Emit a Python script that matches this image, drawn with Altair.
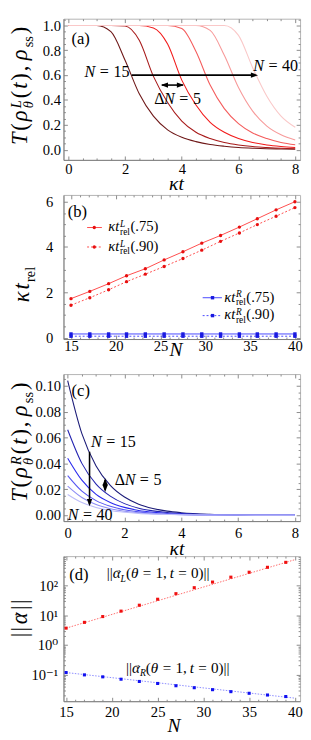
import altair as alt
import pandas as pd

FONT = "Liberation Serif, Times New Roman, DejaVu Serif, serif"

# ======================= data =======================
# (a) T(rho^L_theta(t), rho_ss) versus kappa t
A_T = [0, 0.5, 1, 1.5, 2, 2.5, 3, 3.5, 4, 4.5, 5, 5.5, 6, 6.5, 7, 7.5, 8]
A_N = ["a15", "a20", "a25", "a30", "a35", "a40"]
A_15 = [1, 1, 1, 0.95, 0.72, 0.45, 0.27, 0.16, 0.10, 0.065, 0.042, 0.028, 0.018, 0.012, 0.008, 0.006, 0.004]
A_20 = [1, 1, 1, 1, 0.995, 0.88, 0.59, 0.38, 0.23, 0.14, 0.09, 0.058, 0.038, 0.025, 0.017, 0.011, 0.008]
A_25 = [1, 1, 1, 1, 1, 1, 0.98, 0.85, 0.56, 0.36, 0.22, 0.14, 0.09, 0.058, 0.038, 0.026, 0.018]
A_30 = [1, 1, 1, 1, 1, 1, 1, 1, 0.975, 0.79, 0.52, 0.33, 0.21, 0.135, 0.09, 0.058, 0.04]
A_35 = [1, 1, 1, 1, 1, 1, 1, 1, 1, 1, 0.96, 0.76, 0.50, 0.31, 0.19, 0.12, 0.078]
A_40 = [1, 1, 1, 1, 1, 1, 1, 1, 1, 1, 1, 1, 0.92, 0.66, 0.43, 0.27, 0.18]
A_COLORS = ["#6e1717", "#a81a1a", "#f21a1a", "#f45c5c", "#f79a9a", "#fac8c8"]

# (b) kappa t_rel versus N
B_N = [15, 17.1, 19.2, 21.2, 23.3, 25.4, 27.5, 29.6, 31.7, 33.8, 35.8, 37.9, 40]
B_L75 = [1.72, 2.04, 2.38, 2.73, 3.04, 3.43, 3.79, 4.17, 4.51, 4.88, 5.25, 5.64, 6.0]
B_L90 = [1.43, 1.76, 2.11, 2.47, 2.80, 3.14, 3.49, 3.86, 4.25, 4.62, 4.99, 5.36, 5.74]
B_R75 = [0.16, 0.16, 0.16, 0.16, 0.16, 0.16, 0.16, 0.16, 0.16, 0.16, 0.16, 0.16, 0.16]
B_R90 = [0.06, 0.06, 0.06, 0.06, 0.06, 0.06, 0.06, 0.06, 0.06, 0.06, 0.06, 0.06, 0.06]

# (c) T(rho^R_theta(t), rho_ss) versus kappa t
C_T = [0, 0.5, 1, 1.5, 2, 2.5, 3, 3.5, 4, 5, 6, 7, 8]
C_N = ["c15", "c20", "c25", "c30", "c35", "c40"]
C_15 = [0.104, 0.063, 0.038, 0.023, 0.014, 0.0085, 0.0052, 0.0031, 0.0019, 0.0007, 0.00026, 0.0001, 0.00004]
C_20 = [0.066, 0.040, 0.024, 0.0147, 0.0089, 0.0054, 0.0033, 0.002, 0.0012, 0.00045, 0.00017, 0.00006, 0.00002]
C_25 = [0.044, 0.027, 0.016, 0.0098, 0.006, 0.0036, 0.0022, 0.0013, 0.0008, 0.0003, 0.0001, 0.00004, 0.00001]
C_30 = [0.0305, 0.0185, 0.0112, 0.0068, 0.0041, 0.0025, 0.0015, 0.0009, 0.00056, 0.0002, 0.00008, 0.00003, 0.00001]
C_35 = [0.0224, 0.0136, 0.0082, 0.005, 0.003, 0.0018, 0.0011, 0.00067, 0.0004, 0.00015, 0.00006, 0.00002, 0.00001]
C_40 = [0.016, 0.0097, 0.0059, 0.0036, 0.0022, 0.0013, 0.0008, 0.0005, 0.0003, 0.0001, 0.00004, 0.00001, 0.0]
C_COLORS = ["#1b1b78", "#2323b0", "#2a2aee", "#5555f2", "#8c8cf5", "#bcbcf9"]

# (d) ||alpha|| versus N (log axis)
D_N = [15, 17, 19, 21, 23, 25, 27, 29, 31, 33, 35, 37, 39]
D_L = [3.7, 5.8, 9.1, 13.9, 22, 35, 54, 86, 133, 195, 286, 420, 617]
D_R = [0.117, 0.0977, 0.0838, 0.0697, 0.0585, 0.0501, 0.042, 0.036, 0.0309, 0.0265, 0.0233, 0.0204, 0.0181]
D_FIT_N = [15, 40]
D_FIT_L = [3.7, 760]
D_FIT_R = [0.117, 0.016]

# tick positions
X_T_MAJ = [0, 2, 4, 6, 8]
X_T_MIN = [i / 2 for i in range(0, 17) if i % 4]
X_N_MAJ = [15, 20, 25, 30, 35, 40]
X_N_MIN = [n for n in range(15, 41) if n % 5]
Y_A_MAJ = [0, 0.2, 0.4, 0.6, 0.8, 1.0]
Y_A_MIN = [round(i * 0.05, 2) for i in range(0, 22) if i % 4]
Y_B_MAJ = [0, 2, 4, 6]
Y_B_MIN = [i / 2 for i in range(0, 13) if i % 4]
Y_C_MAJ = [0, 0.02, 0.04, 0.06, 0.08, 0.10]
Y_C_MIN = [round(i * 0.005, 3) for i in range(0, 22) if i % 4]
Y_D_MAJ = [0.1, 1, 10, 100]
Y_D_MIN = [k * 10.0 ** e for e in range(-2, 3) for k in range(2, 10)]

# ======================= styling =======================
W = 243
H_A, H_B, H_C, H_D = 145, 148, 151, 149
GAP = 36
DOMC, TICKC, FRAMEC = "#7d7d7d", "#8a8a8a", "#b3b3b3"
LBL = 15
ONE = pd.DataFrame({"k": [0]})

WR = {" ": .25, "(": .333, ")": .333, ",": .25, ".": .25, "=": .564, "|": .2, "s": .389,
      "r": .333, "e": .444, "l": .278, "a": .444, "b": .5, "c": .444, "d": .5, "Δ": .612, "→": 1.0}
WI = {"T": .556, "t": .278, "κ": .5, "ρ": .5, "θ": .5, "L": .556, "R": .611, "N": .667, "α": .52}


def tw(s, ital):
    tab = WI if ital else WR
    return sum(tab.get(c, 0.5) for c in s)


def segs_of(items, size, tr=0.0, sc=0.64, up=0.28, down=0.25):
    segs, pos = [], 0.0
    fs_s = size * sc
    for it in items:
        k = it[0]
        if k == "n":
            segs.append((it[1], it[2], size, pos, 0.0))
            pos += tw(it[1], it[2]) * size + tr
        elif k == "sup":
            segs.append((it[1], it[2], fs_s, pos, -up * size))
            pos += tw(it[1], it[2]) * fs_s + tr
        elif k == "sub":
            segs.append((it[1], it[2], fs_s, pos, down * size))
            pos += tw(it[1], it[2]) * fs_s + tr
        elif k == "stack":
            (a, ia), (b, ib) = it[1], it[2]
            segs.append((a, ia, fs_s, pos, -up * size))
            segs.append((b, ib, fs_s, pos, down * size))
            pos += max(tw(a, ia), tw(b, ib)) * fs_s + tr
        elif k == "acc":
            w = tw(it[1], True) * size
            segs.append((it[1], True, size, pos, 0.0))
            fa = size * 0.48
            segs.append(("→", False, fa, pos + (w - tw("→", False) * fa) / 2 + 0.08 * size, -0.4 * size))
            pos += w + tr
        elif k == "gap":
            pos += it[1] * size
    return segs, pos - tr


def text_layers(segs, shift, data, x, y, angle=0):
    out = []
    for txt, ital, fs, dx, dy in segs:
        out.append(alt.Chart(data).mark_text(
            text=txt, font=FONT, fontSize=round(fs, 2),
            fontStyle="italic" if ital else "normal", fontWeight="normal",
            align="left", baseline="alphabetic", angle=angle,
            dx=round(dx + shift, 2), dy=round(dy, 2), color="black"
        ).encode(x=x, y=y))
    return out


def ann(items, size, px, py, xs, ys, tr=0.0):
    segs, _ = segs_of(items, size, tr)
    d = pd.DataFrame({"x": [px], "y": [py]})
    return text_layers(segs, 0, d, alt.X("x:Q", scale=xs, axis=None), alt.Y("y:Q", scale=ys, axis=None))


def ytitle(items, size, cy, tr=0.0, extra=0.0):
    segs, total = segs_of(items, size, tr)
    over = min(dy - round(0.8 * fs) for _, _, fs, _, dy in segs)
    X = -56 - over + extra
    return text_layers(segs, -total / 2, ONE, alt.value(round(X, 2)), alt.value(cy), angle=270)


def lin(d):
    return alt.Scale(domain=d, nice=False, zero=False)


def x_axis(values, fmt, lpad, title, tx, ty):
    return alt.Axis(values=values, format=fmt, ticks=False, grid=False, domainColor=DOMC, domainWidth=1,
                    labelFont=FONT, labelFontSize=LBL, labelColor="black", labelPadding=lpad,
                    labelFlush=False, labelOverlap=False,
                    title=title, titleFont=FONT, titleFontSize=20, titleFontStyle="italic",
                    titleFontWeight="normal", titleColor="black", titleX=tx, titleY=ty,
                    titleBaseline="alphabetic", titleAlign="center")


def y_axis(values, lpad, fmt=None, expr=None):
    kw = dict(values=values, ticks=False, grid=False, domainColor=DOMC, domainWidth=1,
              labelFont=FONT, labelFontSize=LBL, labelColor="black", labelPadding=lpad,
              labelFlush=False, labelOverlap=False, title=None)
    if fmt:
        kw["format"] = fmt
    if expr:
        kw["labelExpr"] = expr
    return alt.Axis(**kw)


def frame_ticks(xs, ys, x0, y0, xmaj, xmin, ymaj, ymin, h):
    d = pd.DataFrame({"fx": [x0], "fy": [y0]})
    out = []
    for xv, yv, sz in ((xmaj, ymaj, 4), (xmin, ymin, 2)):
        for ox, oy in (("top", "right"), ("bottom", "left")):
            out.append(alt.Chart(d).mark_point(opacity=0, size=1).encode(
                x=alt.X("fx:Q", scale=xs, axis=alt.Axis(orient=ox, offset=-h, values=xv, labels=False,
                                                        tickSize=sz, tickColor=TICKC, tickWidth=1,
                                                        domain=False, grid=False, title=None)),
                y=alt.Y("fy:Q", scale=ys, axis=alt.Axis(orient=oy, offset=-W, values=yv, labels=False,
                                                        tickSize=sz, tickColor=TICKC, tickWidth=1,
                                                        domain=False, grid=False, title=None))))
    return out


RIGHT = "M0,0L-2.7,-1L-2.7,1Z"
LEFT = "M0,0L2.7,-1L2.7,1Z"
DOWN = "M0,0L-1,-2.7L1,-2.7Z"
UP = "M0,0L-1,2.7L1,2.7Z"


def seg_rule(x1, x2, y1, y2, xs, ys, color="black", width=1.6, dash=None):
    d = pd.DataFrame({"x": [x1], "x2": [x2], "y": [y1], "y2": [y2]})
    kw = dict(color=color, strokeWidth=width)
    if dash:
        kw["strokeDash"] = dash
    return alt.Chart(d).mark_rule(**kw).encode(
        x=alt.X("x:Q", scale=xs, axis=None), x2="x2:Q",
        y=alt.Y("y:Q", scale=ys, axis=None), y2="y2:Q")


def head(px, py, shape, xs, ys, color="black", size=30):
    d = pd.DataFrame({"x": [px], "y": [py]})
    return alt.Chart(d).mark_point(shape=shape, filled=True, size=size, color=color, opacity=1,
                                   strokeWidth=0).encode(
        x=alt.X("x:Q", scale=xs, axis=None), y=alt.Y("y:Q", scale=ys, axis=None))


def long_df(xv, names, series):
    rows = []
    for nm, ys in zip(names, series):
        for x, y in zip(xv, ys):
            rows.append({"t": x, "v": y, "N": nm})
    return pd.DataFrame(rows)


def NEQ(val):
    return [("n", "N", True), ("gap", 0.28), ("n", "=", False), ("gap", 0.28), ("n", val, False)]


DNEQ = [("n", "Δ", False), ("n", "N", True), ("gap", 0.28), ("n", "=", False), ("gap", 0.28), ("n", "5", False)]
ANN = 16.5

# ======================= panel (a) =======================
xa = lin([-0.172, 8.172])
ya = lin([-0.082, 1.054])
dfa = long_df(A_T, A_N, [A_15, A_20, A_25, A_30, A_35, A_40])
lines_a = alt.Chart(dfa).mark_line(interpolate="monotone", strokeWidth=1.1).encode(
    x=alt.X("t:Q", scale=xa, axis=x_axis(X_T_MAJ, "d", 2, "κt", 115.5, 30)),
    y=alt.Y("v:Q", scale=ya, axis=y_axis(Y_A_MAJ, 3, fmt=".1f")),
    color=alt.Color("N:N", scale=alt.Scale(domain=A_N, range=A_COLORS), legend=None))


def T_title(sup):
    return [("n", "T", True), ("n", "(", False), ("n", "ρ", True), ("stack", (sup, True), ("θ", True)),
            ("n", "(", False), ("n", "t", True), ("n", ")", False), ("n", ",", False), ("gap", 0.15),
            ("n", "ρ", True), ("sub", "ss", False), ("n", ")", False)]


layers_a = frame_ticks(xa, ya, 0, 0.5, X_T_MAJ, X_T_MIN, Y_A_MAJ, Y_A_MIN, H_A) + [lines_a]
layers_a += [seg_rule(2.23, 6.6, 0.6, 0.6, xa, ya), head(6.69, 0.6, RIGHT, xa, ya),
             seg_rule(3.3, 4.04, 0.52, 0.52, xa, ya), head(3.26, 0.52, LEFT, xa, ya),
             head(4.08, 0.52, RIGHT, xa, ya)]
layers_a += ann([("n", "(a)", False)], 17, 0.11, 0.849, xa, ya)
layers_a += ann(NEQ("15"), ANN, 0.573, 0.582, xa, ya)
layers_a += ann(NEQ("40"), ANN, 6.52, 0.632, xa, ya)
layers_a += ann(DNEQ, ANN, 3.03, 0.37, xa, ya)
layers_a += ytitle(T_title("L"), 23, 69, tr=2.0)
pa = alt.layer(*layers_a).resolve_axis(x="independent", y="independent").properties(width=W, height=H_A)

# ======================= panel (b) =======================
xb = lin([14.163, 40.576])
yb = lin([-0.064, 6.299])
dfb = pd.DataFrame({"N": B_N, "l75": B_L75, "l90": B_L90, "r75": B_R75, "r90": B_R90})
RL, RP, BL, BP = "#ff4a4a", "#e81010", "#4646ff", "#1a1ae0"
bx = alt.X("N:Q", scale=xb, axis=None)
line_b75 = alt.Chart(dfb).mark_line(color=RL, strokeWidth=1).encode(
    x=alt.X("N:Q", scale=xb, axis=x_axis(X_N_MAJ, "d", 0, "N", 115, 17)),
    y=alt.Y("l75:Q", scale=yb, axis=y_axis(Y_B_MAJ, 11, fmt="d")))
layers_b = frame_ticks(xb, yb, 20, 1, X_N_MAJ, X_N_MIN, Y_B_MAJ, Y_B_MIN, H_B) + [line_b75]
layers_b += [
    alt.Chart(dfb).mark_line(color=RL, strokeWidth=1, strokeDash=[2, 2]).encode(
        x=bx, y=alt.Y("l90:Q", scale=yb, axis=None)),
    alt.Chart(dfb).mark_line(color=BL, strokeWidth=1).encode(x=bx, y=alt.Y("r75:Q", scale=yb, axis=None)),
    alt.Chart(dfb).mark_line(color=BL, strokeWidth=1, strokeDash=[2, 2]).encode(
        x=bx, y=alt.Y("r90:Q", scale=yb, axis=None)),
]
for fld, col, shp in (("l75", RP, "circle"), ("l90", RP, "circle"), ("r75", BP, "square"), ("r90", BP, "square")):
    layers_b.append(alt.Chart(dfb).mark_point(shape=shp, filled=True, size=12, color=col, opacity=1).encode(
        x=bx, y=alt.Y(fld + ":Q", scale=yb, axis=None)))

LEG_X1 = [16.8, 16.8, 29.7, 29.7]
LEG_X2 = [18.45, 18.45, 31.85, 31.85]
LEG_Y = [4.86, 4.0, 1.76, 0.97]
LEG_XM = [17.6, 17.6, 30.8, 30.8]
LEG_TX = [19.16, 19.16, 32.1, 32.1]
LEG_TY = [4.69, 3.83, 1.59, 0.80]
LEG_SUP = ["L", "L", "R", "R"]
LEG_VAL = ["(.75)", "(.90)", "(.75)", "(.90)"]
for i in range(4):
    lc, pc, shp = (RL, RP, "circle") if i < 2 else (BL, BP, "square")
    layers_b.append(seg_rule(LEG_X1[i], LEG_X2[i], LEG_Y[i], LEG_Y[i], xb, yb, color=lc, width=1,
                             dash=[2, 2] if i % 2 else None))
    layers_b.append(head(LEG_XM[i], LEG_Y[i], shp, xb, yb, color=pc, size=12))
    layers_b += ann([("n", "κt", True), ("stack", (LEG_SUP[i], True), ("rel", False)), ("n", LEG_VAL[i], False)],
                    15, LEG_TX[i], LEG_TY[i], xb, yb, tr=0.5)
layers_b += ann([("n", "(b)", False)], 17, 14.63, 5.32, xb, yb)
layers_b += ytitle([("n", "κ", True), ("n", "t", True), ("sub", "rel", False)], 23, 92, tr=1.5, extra=2.5)
pb = alt.layer(*layers_b).resolve_axis(x="independent", y="independent").properties(width=W, height=H_B)

# ======================= panel (c) =======================
xc = lin([-0.147, 8.182])
yc = lin([-0.0046, 0.109])
dfc = long_df(C_T, C_N, [C_15, C_20, C_25, C_30, C_35, C_40])
lines_c = alt.Chart(dfc).mark_line(interpolate="monotone", strokeWidth=1.1).encode(
    x=alt.X("t:Q", scale=xc, axis=x_axis(X_T_MAJ, "d", 5, "κt", 116, 34)),
    y=alt.Y("v:Q", scale=yc, axis=y_axis(Y_C_MAJ, 3, fmt=".2f")),
    color=alt.Color("N:N", scale=alt.Scale(domain=C_N, range=C_COLORS), legend=None))
layers_c = frame_ticks(xc, yc, 0, 0.05, X_T_MAJ, X_T_MIN, Y_C_MAJ, Y_C_MIN, H_C) + [lines_c]
layers_c += [seg_rule(0.77, 0.77, 0.049, 0.0085, xc, yc), head(0.77, 0.0069, DOWN, xc, yc),
             seg_rule(1.32, 1.32, 0.0272, 0.0193, xc, yc), head(1.32, 0.0286, UP, xc, yc),
             head(1.32, 0.0179, DOWN, xc, yc)]
layers_c += ann([("n", "(c)", False)], 17, 0.137, 0.0923, xc, yc)
layers_c += ann(NEQ("15"), ANN, 0.82, 0.0528, xc, yc)
layers_c += ann(DNEQ, ANN, 1.66, 0.0235, xc, yc)
layers_c += ann(NEQ("40"), ANN, 0.0, -0.004, xc, yc)
layers_c += ytitle(T_title("R"), 23, 70, tr=2.0)
pc = alt.layer(*layers_c).resolve_axis(x="independent", y="independent").properties(width=W, height=H_C)

# ======================= panel (d) =======================
xd = lin([14.713, 40.564])
yd = alt.Scale(type="log", domain=[0.0126, 1000], nice=False)
dfd = pd.DataFrame({"N": D_N, "L": D_L, "R": D_R})
dff = pd.DataFrame({"N": D_FIT_N, "L": D_FIT_L, "R": D_FIT_R})
dx_ = alt.X("N:Q", scale=xd, axis=None)
LOG_EXPR = ("datum.value > 50 ? '10²' : datum.value > 5 ? '10¹' : "
            "datum.value > 0.5 ? '10⁰' : '10⁻¹'")
fit_l = alt.Chart(dff).mark_line(color="#ff6a6a", strokeWidth=1, strokeDash=[1.5, 1.5]).encode(
    x=alt.X("N:Q", scale=xd, axis=x_axis(X_N_MAJ, "d", 4, "N", 113, 31)),
    y=alt.Y("L:Q", scale=yd, axis=y_axis(Y_D_MAJ, 6, expr=LOG_EXPR)))
layers_d = frame_ticks(xd, yd, 20, 1, X_N_MAJ, X_N_MIN, Y_D_MAJ, Y_D_MIN, H_D) + [fit_l]
layers_d += [
    alt.Chart(dff).mark_line(color="#8a8aff", strokeWidth=1, strokeDash=[1.5, 1.5]).encode(
        x=dx_, y=alt.Y("R:Q", scale=yd, axis=None)),
    alt.Chart(dfd).mark_point(shape="square", filled=True, size=10, color="#f01010", opacity=1).encode(
        x=dx_, y=alt.Y("L:Q", scale=yd, axis=None)),
    alt.Chart(dfd).mark_point(shape="square", filled=True, size=10, color="#1010f0", opacity=1).encode(
        x=dx_, y=alt.Y("R:Q", scale=yd, axis=None)),
]


def alpha_label(sub):
    return [("n", "||", False), ("acc", "α"), ("sub", sub, True), ("n", "(", False), ("n", "θ", True),
            ("gap", 0.28), ("n", "=", False), ("gap", 0.28), ("n", "1,", False), ("gap", 0.2),
            ("n", "t", True), ("gap", 0.28), ("n", "=", False), ("gap", 0.28), ("n", "0)||", False)]


layers_d += ann([("n", "(d)", False)], 17, 15.35, 162, xd, yd)
layers_d += ann(alpha_label("L"), 15.5, 19.43, 181, xd, yd)
layers_d += ann(alpha_label("R"), 15.5, 21.55, 0.117, xd, yd)
layers_d += ytitle([("n", "|", False), ("gap", 0.06), ("n", "|", False), ("gap", 0.12), ("acc", "α"),
                    ("gap", 0.12), ("n", "|", False), ("gap", 0.06), ("n", "|", False)], 23, 64)
pd_ = alt.layer(*layers_d).resolve_axis(x="independent", y="independent").properties(width=W, height=H_D)

chart = alt.vconcat(pa, pb, pc, pd_, spacing=GAP, bounds="flush").resolve_scale(
    color="independent"
).properties(
    padding={"left": 0, "top": 0, "right": 0, "bottom": 0}
).configure_view(stroke=FRAMEC, strokeWidth=1)

chart.save("out.html", embed_options={"renderer": "svg", "actions": False})
